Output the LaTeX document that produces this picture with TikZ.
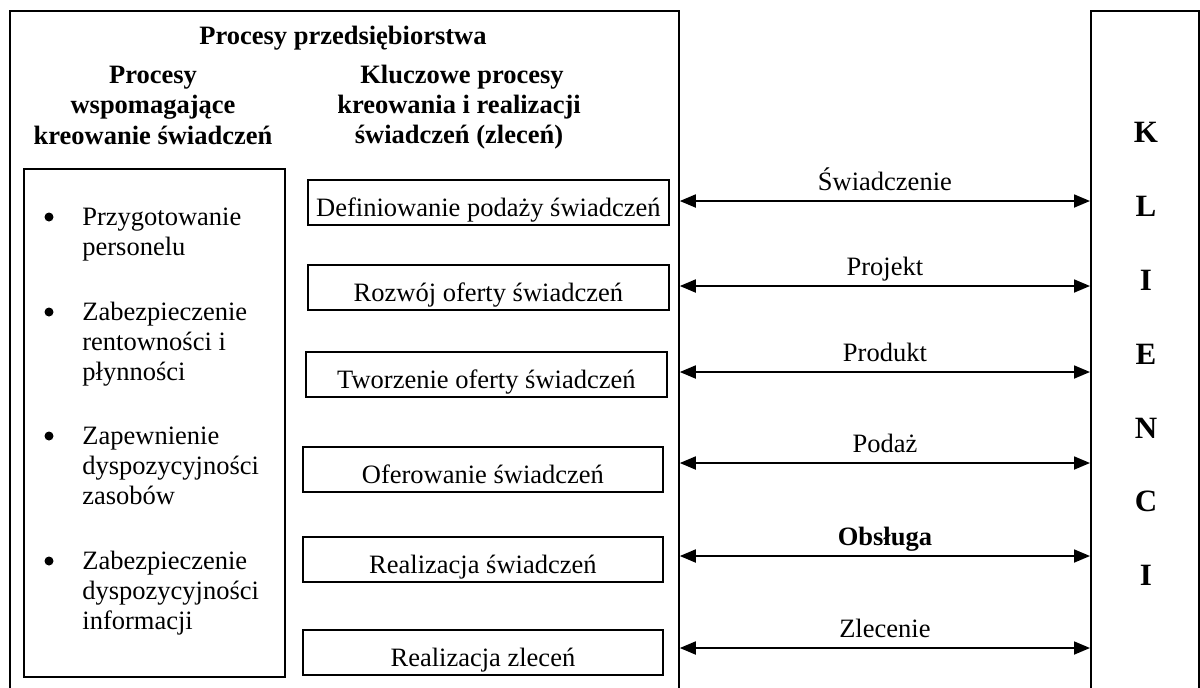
\documentclass[tikz,border=0pt]{standalone}
\usepackage{fontspec}
\setmainfont{Liberation Serif}
\usetikzlibrary{arrows.meta}
\begin{document}
\begin{tikzpicture}[x=0.5pt,y=-0.5pt,
  frame/.style={draw, line width=0.9pt, inner sep=0pt, anchor=north west},
  procbox/.style={frame, minimum width=180.5pt, minimum height=22.5pt,
    text height=18.25pt, text depth=4.25pt, font=\fontsize{13.25pt}{15pt}\selectfont},
  txt/.style={font=\fontsize{13.25pt}{15pt}\selectfont, inner sep=0pt, anchor=base west},
  hdr/.style={font=\fontsize{13.25pt}{15pt}\selectfont\bfseries, inner sep=0pt, anchor=base},
  letter/.style={font=\fontsize{15.5pt}{18pt}\selectfont\bfseries, inner sep=0pt, anchor=base},
  bullet/.style={circle, fill=black, inner sep=0pt, minimum size=4.5pt},
  lbl/.style={midway, anchor=base, yshift=5.25pt, inner sep=0pt, font=\fontsize{13.25pt}{15pt}\selectfont},
  biarrow/.style={{Triangle[length=8pt,width=6.5pt]}-{Triangle[length=8pt,width=6.5pt]}, line width=0.9pt}
]
\useasboundingbox (0,0) rectangle (1200,687);
\fill[white] (0,0) rectangle (1200,687);
\clip (0,0) rectangle (1200,687);

% main frames
\node[frame, minimum width=334.5pt, minimum height=340pt] (firm) at (9,10) {};
\node[frame, minimum width=54pt, minimum height=341pt] (klienci) at (1090,10) {};
\node[frame, minimum width=130.5pt, minimum height=254pt] (wsp) at (23,168) {};

% headings
\node[hdr] (title) at (343,44) {Procesy przedsiębiorstwa};
\node[hdr] (hl1) at (153,83) {Procesy};
\node[hdr] (hl2) at (153,113) {wspomagające};
\node[hdr] (hl3) at (153,144) {kreowanie świadczeń};
\node[hdr] (hr1) at (462,83) {Kluczowe procesy};
\node[hdr] (hr2) at (459,113) {kreowania i realizacji};
\node[hdr] (hr3) at (459,143) {świadczeń (zleceń)};

% supporting processes
\node[bullet] (b1) at (49,217) {};
\node[txt] (t1a) at (82,225) {Przygotowanie};
\node[txt] (t1b) at (82,255) {personelu};
\node[bullet] (b2) at (49,312) {};
\node[txt] (t2a) at (82,320) {Zabezpieczenie};
\node[txt] (t2b) at (82,350) {rentowności i};
\node[txt] (t2c) at (82,380) {płynności};
\node[bullet] (b3) at (49,436) {};
\node[txt] (t3a) at (82,444) {Zapewnienie};
\node[txt] (t3b) at (82,474) {dyspozycyjności};
\node[txt] (t3c) at (82,504) {zasobów};
\node[bullet] (b4) at (49,561) {};
\node[txt] (t4a) at (82,569) {Zabezpieczenie};
\node[txt] (t4b) at (82,599) {dyspozycyjności};
\node[txt] (t4c) at (82,629) {informacji};

% key processes
\node[procbox] (p1) at (307,179) {Definiowanie podaży świadczeń};
\node[procbox] (p2) at (307,264) {Rozwój oferty świadczeń};
\node[procbox] (p3) at (305,351) {Tworzenie oferty świadczeń};
\node[procbox, minimum width=180pt] (p4) at (302,446) {Oferowanie świadczeń};
\node[procbox, minimum width=180pt] (p5) at (302,536) {Realizacja świadczeń};
\node[procbox, minimum width=180pt] (p6) at (302,629) {Realizacja zleceń};

% KLIENCI
\foreach \ch/\yy [count=\i] in {K/142.5, L/216.5, I/290.5, E/364.5, N/438.5, C/511.5, I/585.5}
  \node[letter] (k\i) at (1146,\yy) {\ch};

% connectors
\foreach \n/\yy/\lab in {1/201/{Świadczenie}, 2/286/{Projekt}, 3/372/{Produkt},
                         4/463/{Podaż}, 5/556/{\textbf{Obsługa}}, 6/648/{Zlecenie}} {
  \coordinate (a\n) at (0,\yy);
  \draw[biarrow] (firm.east |- a\n) -- node[lbl] {\lab} (klienci.west |- a\n);
}
\end{tikzpicture}
\end{document}
